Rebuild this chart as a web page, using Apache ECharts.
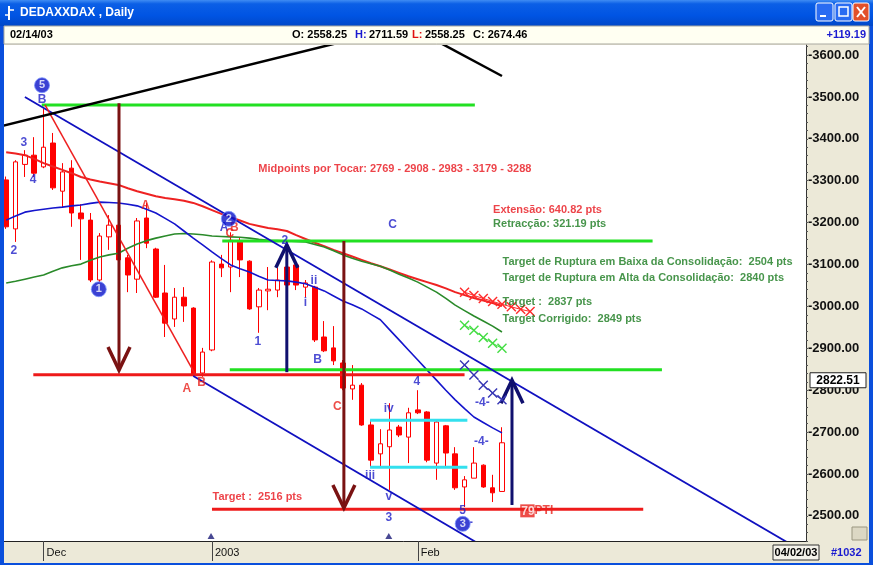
<!DOCTYPE html>
<html>
<head>
<meta charset="utf-8">
<script src="https://cdn.jsdelivr.net/npm/echarts@6.0.0/dist/echarts.min.js"></script>
<style>html,body{margin:0;padding:0;background:#fff;overflow:hidden}#c{width:873px;height:565px}</style>
</head>
<body>
<div id="c"></div>
<script>
// ---------- DATA ----------
const dates = [
 '11/26/02','11/27/02','11/28/02','11/29/02',
 '12/02/02','12/03/02','12/04/02','12/05/02','12/06/02','12/09/02','12/10/02','12/11/02','12/12/02','12/13/02',
 '12/16/02','12/17/02','12/18/02','12/19/02','12/20/02','12/23/02','12/27/02','12/30/02',
 '01/02/03','01/03/03','01/06/03','01/07/03','01/08/03','01/09/03','01/10/03','01/13/03','01/14/03','01/15/03',
 '01/16/03','01/17/03','01/20/03','01/21/03','01/22/03','01/23/03','01/24/03','01/27/03','01/28/03','01/29/03',
 '01/30/03','01/31/03',
 '02/03/03','02/04/03','02/05/03','02/06/03','02/07/03','02/10/03','02/11/03','02/12/03','02/13/03','02/14/03',
 '02/17/03','02/18/03','02/19/03','02/20/03','02/21/03','02/24/03','02/25/03','02/26/03','02/27/03','02/28/03',
 '03/03/03','03/04/03','03/05/03','03/06/03','03/07/03','03/10/03','03/11/03','03/12/03','03/13/03','03/14/03',
 '03/17/03','03/18/03','03/19/03','03/20/03','03/21/03','03/24/03','03/25/03','03/26/03','03/27/03','03/28/03',
 '03/31/03','04/01/03'
];
const opens  = [3302,3185,3339,3361,3333,3390,3275,3330,3223,3206, 3063,3166,3194,3116,3065,3211,3137,3032,2970,3022,
                2996,2841,2896,3101,3094,3154,3108,2999,3037,3039, 3094,3099,3046,3046,2927,2901,2865,2803,2812,2717,
                2648,2665,2712,2688,2753,2748,2626,2715,2648,2569, 2590,2621,2567,2558.25];
const highs  = [3310,3349,3373,3404,3472,3414,3342,3349,3244,3223, 3175,3218,3200,3123,3211,3247,3140,3099,3044,3046,
                2998,2901,3110,3123,3177,3163,3110,3044,3094,3092, 3135,3104,3063,3049,2965,2953,2872,2860,2817,2729,
                2707,2769,2717,2758,2800,2750,2729,2717,2664,2595, 2664,2623,2598,2711.59];
const lows   = [3185,3154,3309,3309,3330,3278,3237,3190,3111,3058, 3058,3135,3105,3034,3032,3139,3020,2927,2951,2963,
                2834,2832,2893,3070,3034,3070,2992,2937,2991,3022, 3040,3039,3022,2915,2891,2860,2800,2777,2715,2617,
                2619,2562,2688,2626,2743,2628,2586,2617,2562,2521, 2590,2567,2533,2558.25];
const closes = [3190,3345,3361,3318,3380,3283,3321,3223,3209,3063, 3168,3194,3111,3075,3204,3151,3022,2960,3022,3001,
                2836,2891,3106,3092,3158,3111,2994,3039,3041,3063, 3051,3051,3056,2920,2894,2870,2805,2812,2717,2633,
                2672,2705,2693,2746,2746,2633,2724,2650,2567,2586, 2626,2569,2555,2674.46];
const maRed   = [3368,3365,3361,3352,3342,3334,3326,3318,3309,3303, 3298,3294,3290,3282,3275,3269,3263,3259,3256,3252,
                 3247,3239,3230,3221,3213,3205,3197,3192,3187,3184, 3180,3170,3161,3152,3144,3135,3127,3119,3111,3103,
                 3096,3088,3080,3072,3065,3058,3051,3043,3034,3027, 3020,3014,3008,3001];
const maGreen = [3056,3060,3065,3070,3075,3084,3092,3097,3101,3110, 3118,3123,3127,3139,3149,3157,3163,3168,3173,3174,
                 3173,3171,3168,3167,3166,3165,3163,3160,3158,3157, 3156,3155,3154,3148,3142,3133,3123,3115,3108,3102,
                 3096,3087,3077,3068,3058,3046,3034,3019,3003,2990, 2977,2965,2953,2939];
const maBlue  = [3206,3216,3225,3229,3232,3235,3237,3240,3242,3246, 3249,3248,3247,3244,3240,3232,3223,3210,3197,3180,
                 3163,3147,3130,3114,3099,3090,3082,3072,3063,3062, 3061,3058,3054,3046,3037,3025,3013,3004,2994,2981,
                 2968,2944,2920,2896,2872,2848,2824,2800,2777,2756, 2736,2723,2710,2698];
// projections (index, value)
const projRed   = [[49,3034],[50,3026],[51,3019],[52,3012],[53,3005],[54,2999],[55,2993],[56,2988]];
const projGreen = [[49,2955],[50,2943],[51,2926],[52,2912],[53,2900]];
const projBlue  = [[49,2860],[50,2836],[51,2812],[52,2793],[53,2777]];
// x-axis tick labels: [category index, text]
const xTickLabels = [[4,'Dec'],[22,'2003'],[44,'Feb']];
// drawn studies, in (index, value) space
const greenLevels = [[3.8,50.1,3481],[23.1,69.1,3156],[23.9,70.1,2849]];
const redLevels   = [[2.9,49.0,2837],[22.0,68.1,2516]];
const cyanLevels  = [[38.9,49.3,2728],[38.9,49.3,2616]];
const blueChannel = [[2.0,3500,83.8,2433],[20.0,2834,50.7,2431]];
const redSwing    = [[4.15,3481,20.3,2834]];
const blackTrend  = [[-0.6,3430,36,3632],[46.4,3629,53.0,3550]];
const downArrows  = [[12.06,3485,2848],[36.1,3156,2519]];
const upArrows    = [[30.0,2843,3147],[54.07,2526,2824]];
const notesRed   = [['Midpoints por Tocar: 2769 - 2908 - 2983 - 3179 - 3288',26.9,3328],['Extensão: 640.82 pts',52.0,3230],['Target :  2516 pts',22.0,2545]];
const notesGreen = [['Retracção: 321.19 pts',52.0,3197],['Target de Ruptura em Baixa da Consolidação:  2504 pts',53.0,3106],
                    ['Target de Ruptura em Alta da Consolidação:  2840 pts',53.0,3068],['Target :  2837 pts',53.0,3010],['Target Corrigido:  2849 pts',53.0,2970]];
const wavesBlue = [['3',1.9,3392],['4',2.87,3302],['2',0.83,3132],['B',3.83,3494],['A',23.3,3187],['2',29.8,3158],['1',26.9,2915],
                   ['i',32.0,3008],['ii',32.9,3061],['B',33.3,2872],['C',41.3,3194],['4',43.9,2820],['iv',40.9,2755],['iii',38.9,2595],
                   ['v',40.9,2545],['3',40.9,2495],['5',48.8,2512],['-4-',50.9,2769],['-4-',50.8,2676],['-',49.7,2483]];
const wavesRed  = [['A',14.9,3240],['A',19.3,2803],['B',20.9,2819],['C',35.4,2760],['B',24.4,3187],['C',23.9,3173]];
const circled   = [['5',3.83,3528],['1',9.9,3041],['2',23.8,3209],['3',48.8,2481]];
const ptiMark   = [['79',54.9,2512]];
const triangles = [[21.9,2452],[40.9,2452]];
const lastValue = 2822.51;

// ---------- CHART ----------
const FONT = 'Liberation Sans';
const chart = echarts.init(document.getElementById('c'), null, {renderer:'canvas'});
const tickIdx = xTickLabels.map(t => t[0]);
const N = dates.length;

function segSeries(data, color, width, z) {
  return {type:'custom', xAxisIndex:1, yAxisIndex:0, clip:true, silent:true, z,
    data, encode:{x:[0,2], y:[1,3]},
    renderItem:(p, api) => {
      const a = api.coord([api.value(0), api.value(1)]);
      const b = api.coord([api.value(2), api.value(3)]);
      return {type:'line', shape:{x1:a[0],y1:a[1],x2:b[0],y2:b[1]}, style:{stroke:color, lineWidth:width}};
    }};
}
function arrowSeries(data, color, width, z) {
  return {type:'custom', xAxisIndex:1, yAxisIndex:0, clip:true, silent:true, z,
    data, encode:{x:0, y:[1,2]},
    renderItem:(p, api) => {
      const a = api.coord([api.value(0), api.value(1)]);
      const b = api.coord([api.value(0), api.value(2)]);
      const dir = b[1] > a[1] ? 1 : -1;
      const hw = 11, hh = 23;
      return {type:'group', children:[
        {type:'line', shape:{x1:a[0],y1:a[1],x2:b[0],y2:b[1]}, style:{stroke:color, lineWidth:width}},
        {type:'polyline', shape:{points:[[b[0]-hw,b[1]-dir*hh],[b[0],b[1]],[b[0]+hw,b[1]-dir*hh]]}, style:{stroke:color, lineWidth:width+0.5, fill:null}}
      ]};
    }};
}
function textSeries(items, color, pos, size, z) {
  return {type:'scatter', xAxisIndex:1, yAxisIndex:0, symbolSize:1, silent:true, z: z || 8,
    itemStyle:{color:'rgba(0,0,0,0)'},
    data: items.map(t => ({value:[t[1], t[2]], name:t[0]})),
    label:{show:true, formatter:'{b}', position:pos, distance:0, color, fontSize:size, fontWeight:'bold', fontFamily:FONT}};
}
const xSym = 'path://M0,1 L1,0 L5,4 L9,0 L10,1 L6,5 L10,9 L9,10 L5,6 L1,10 L0,9 L4,5 Z';
function projSeries(data, color) {
  return {type:'line', xAxisIndex:1, yAxisIndex:0, data, symbol:xSym, symbolSize:10, showSymbol:true,
    lineStyle:{color, width:1}, itemStyle:{color}, silent:true, z:5, animation:false};
}

const levelsToSeg = arr => arr.map(l => [l[0], l[2], l[1], l[2]]);

const option = {
  animation:false,
  backgroundColor:'#ECE9D8',
  grid:{left:1.5, right:67, top:45, bottom:24, show:true, backgroundColor:'#ffffff', borderWidth:0, outerBoundsMode:'none', containLabel:false},
  xAxis:[
    {type:'category', data:dates, boundaryGap:true,
      axisLine:{show:true, onZero:false, lineStyle:{color:'#222', width:1}},
      axisTick:{show:true, alignWithLabel:true, interval:(i)=>tickIdx.includes(i), length:20, lineStyle:{color:'#444'}},
      axisLabel:{show:true, interval:(i)=>tickIdx.includes(i), formatter:(v,i)=>{const t=xTickLabels.find(e=>e[0]===i);return t?t[1]:'';},
        align:'left', padding:[0,0,0,3], margin:6, color:'#111', fontSize:11, fontFamily:FONT},
      splitLine:{show:false}},
    {type:'value', min:-0.5, max:N-0.5, show:false, axisLine:{onZero:false}}
  ],
  yAxis:[{type:'value', position:'right', min:2440, max:3624, interval:20,
    axisLine:{show:true, onZero:false, lineStyle:{color:'#333', width:1}},
    axisTick:{show:true, length:2, lineStyle:{color:'#555'}},
    axisLabel:{show:true, margin:2, formatter:(v)=> (v % 100 === 0 ? '-' + v.toFixed(2) : ''), color:'#111', fontSize:13, fontWeight:'bold', fontFamily:FONT, showMaxLabel:false},
    splitLine:{show:false}}],
  series:[
    {type:'candlestick', xAxisIndex:0, yAxisIndex:0, barWidth:5, z:2, silent:true,
      data: opens.map((o,i)=>[o, closes[i], lows[i], highs[i]]),
      itemStyle:{color:'#ffffff', color0:'#ff0000', borderColor:'#ff0000', borderColor0:'#ff0000', borderWidth:1}},
    {type:'line', xAxisIndex:0, data:maRed, symbol:'none', lineStyle:{color:'#ee2222', width:2}, z:3, silent:true},
    {type:'line', xAxisIndex:0, data:maGreen, symbol:'none', lineStyle:{color:'#2a8a2a', width:1.6}, z:3, silent:true},
    {type:'line', xAxisIndex:0, data:maBlue, symbol:'none', lineStyle:{color:'#1414cc', width:1.6}, z:3, silent:true},
    projSeries(projRed, '#ff2a2a'),
    projSeries(projGreen, '#44dd44'),
    projSeries(projBlue, '#3636b4'),
    segSeries(levelsToSeg(greenLevels), '#22e022', 3, 4),
    segSeries(levelsToSeg(redLevels), '#ee1a1a', 3, 4),
    segSeries(levelsToSeg(cyanLevels), '#33e0ee', 3, 4),
    segSeries(blueChannel, '#1010c0', 1.8, 4),
    segSeries(redSwing, '#ee2020', 1.5, 4),
    segSeries(blackTrend, '#000000', 2.5, 4),
    arrowSeries(downArrows, '#7a1212', 3, 5),
    arrowSeries(upArrows, '#10106e', 3, 5),
    textSeries(notesRed, '#e8141b', 'right', 11),
    textSeries(notesGreen, '#197a1e', 'right', 11),
    textSeries(wavesBlue, '#2020c8', 'inside', 12),
    textSeries(wavesRed, '#e8201a', 'inside', 12),
    {type:'scatter', xAxisIndex:1, yAxisIndex:0, symbol:'circle', symbolSize:15, silent:true, z:9,
      itemStyle:{color:'#0a12c8', borderColor:'#7e97ff', borderWidth:1},
      data: circled.map(t => ({value:[t[1],t[2]], name:t[0]})),
      label:{show:true, formatter:'{b}', position:'inside', color:'#fff', fontSize:11, fontWeight:'bold', fontFamily:FONT}},
    {type:'scatter', xAxisIndex:1, yAxisIndex:0, symbolSize:1, silent:true, z:9, itemStyle:{color:'rgba(0,0,0,0)'},
      data: ptiMark.map(t => ({value:[t[1],t[2]], name:t[0]})),
      label:{show:true, position:'right', distance:0, formatter:'{a|{b}}{p|PTI}',
        rich:{a:{backgroundColor:'#e8201a', color:'#fff', fontSize:12, fontWeight:'bold', fontFamily:FONT, padding:[1,0,0,1]},
              p:{color:'#e8201a', fontSize:12, fontWeight:'bold', fontFamily:FONT}}}},
    {type:'scatter', xAxisIndex:1, yAxisIndex:0, symbol:'triangle', symbolSize:[7,6], silent:true, z:6,
      itemStyle:{color:'#1a1a78'}, data:triangles}
  ],
  graphic:[]
};
chart.setOption(option);

// window chrome and header (screen furniture)
const yLast = chart.convertToPixel({yAxisIndex:0}, lastValue);
const T = (x,y,text,fill,opt={}) => Object.assign({type:'text', x, y, z:200, style:Object.assign({text, fill, font:'bold 11px '+FONT, textVerticalAlign:'middle'}, opt)});
const g = [
  {type:'rect', z:200, shape:{x:0,y:0,width:873,height:26}, style:{fill:new echarts.graphic.LinearGradient(0,0,0,1,[{offset:0,color:'#3f8cf3'},{offset:0.15,color:'#0b5fe6'},{offset:0.6,color:'#0054e3'},{offset:1,color:'#0148c8'}])}},
  {type:'rect', z:200, shape:{x:0,y:26,width:4,height:539}, style:{fill:'#0a4fdc'}},
  {type:'rect', z:200, shape:{x:869,y:26,width:4,height:539}, style:{fill:'#0a4fdc'}},
  {type:'rect', z:200, shape:{x:0,y:563,width:873,height:2}, style:{fill:'#0a4fdc'}},
  {type:'line', z:201, shape:{x1:9,y1:6,x2:9,y2:20}, style:{stroke:'#fff', lineWidth:2}},
  {type:'line', z:201, shape:{x1:9,y1:10,x2:14,y2:10}, style:{stroke:'#fff', lineWidth:1.5}},
  {type:'line', z:201, shape:{x1:5,y1:15,x2:9,y2:15}, style:{stroke:'#fff', lineWidth:1.5}},
  T(20,13,'DEDAXXDAX , Daily','#ffffff',{font:'bold 12px '+FONT}),
  {type:'rect', z:200, shape:{x:816,y:3,width:17,height:18,r:2}, style:{fill:'#2a6cf2', stroke:'#ffffff', lineWidth:1}},
  {type:'rect', z:201, shape:{x:820,y:15,width:6,height:2}, style:{fill:'#ffffff'}},
  {type:'rect', z:200, shape:{x:835,y:3,width:17,height:18,r:2}, style:{fill:'#2a6cf2', stroke:'#ffffff', lineWidth:1}},
  {type:'rect', z:201, shape:{x:839,y:7,width:9,height:9}, style:{fill:null, stroke:'#ffffff', lineWidth:1.5}},
  {type:'rect', z:200, shape:{x:853,y:3,width:16,height:18,r:2}, style:{fill:'#e2502a', stroke:'#ffffff', lineWidth:1}},
  {type:'line', z:201, shape:{x1:857,y1:7,x2:865,y2:17}, style:{stroke:'#fff', lineWidth:2}},
  {type:'line', z:201, shape:{x1:865,y1:7,x2:857,y2:17}, style:{stroke:'#fff', lineWidth:2}},
  {type:'rect', z:200, shape:{x:4,y:26,width:865,height:18}, style:{fill:'#fffff2', stroke:'#a8a8a0', lineWidth:1}},
  T(10,35,'02/14/03','#000'),
  T(292,35,'O: 2558.25','#000'),
  T(355,35,'H:','#1a1ad0'), T(369,35,'2711.59','#000'),
  T(412,35,'L:','#e01010'), T(425,35,'2558.25','#000'),
  T(473,35,'C: 2674.46','#000'),
  T(866,35,'+119.19','#1a1ad0',{textAlign:'right'}),
  {type:'rect', z:200, shape:{x:810,y:yLast-8,width:56,height:15}, style:{fill:'#ffffff', stroke:'#222', lineWidth:1}},
  T(838,yLast,'2822.51','#000',{textAlign:'center', font:'bold 12px '+FONT}),
  {type:'rect', z:200, shape:{x:773,y:545,width:46,height:15}, style:{fill:'#f4f2ea', stroke:'#333', lineWidth:1}},
  T(796,553,'04/02/03','#000',{textAlign:'center'}),
  T(831,553,'#1032','#1a1ad0'),
  {type:'rect', z:200, shape:{x:852,y:527,width:15,height:13}, style:{fill:'#dcd8c4', stroke:'#9a9680', lineWidth:1}},
];
chart.setOption({graphic:g});
</script>
</body>
</html>
